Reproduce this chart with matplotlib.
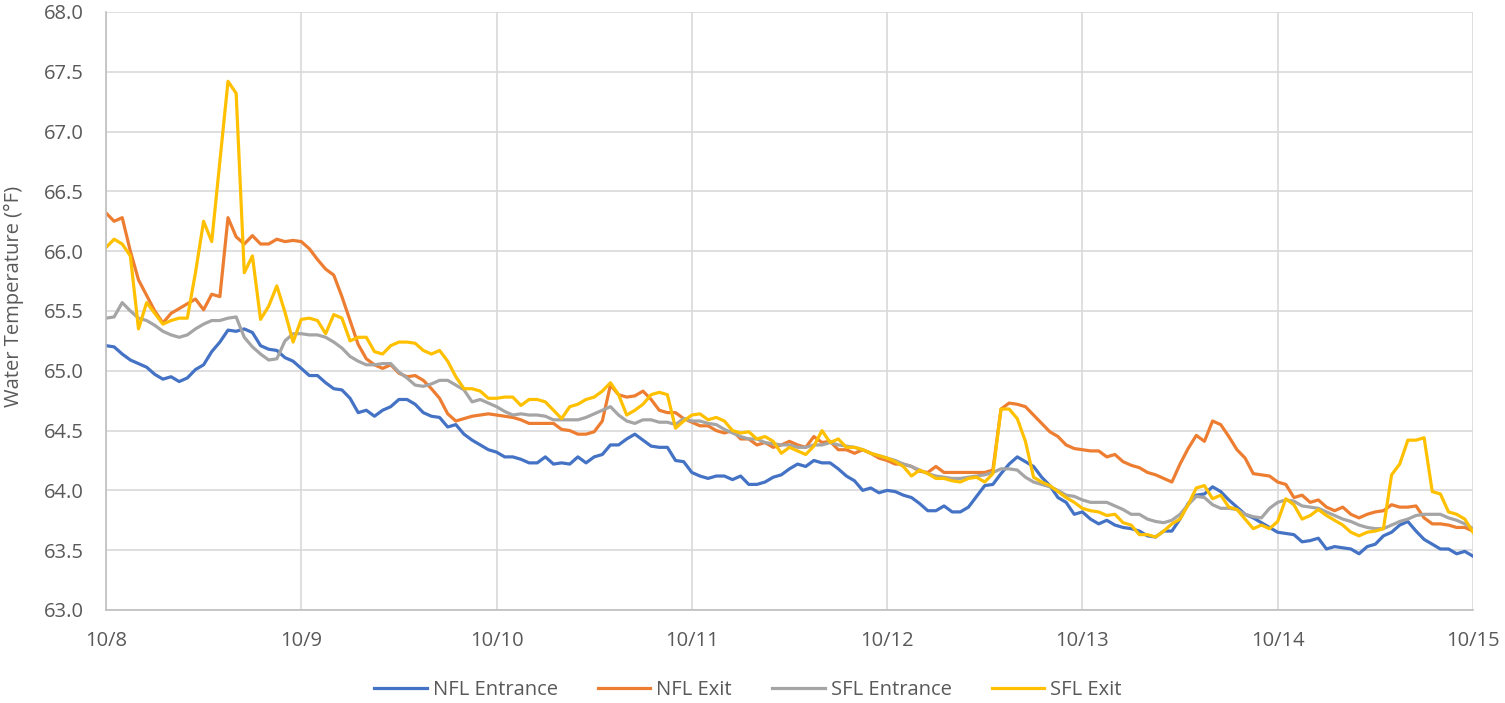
import numpy as np
import matplotlib.pyplot as plt

plt.rcParams['font.family'] = ['Open Sans', 'DejaVu Sans']

# hourly readings, 10/8 00:00 -> 10/15 00:00
nfl_entrance = [
    65.21, 65.20, 65.14, 65.09, 65.06, 65.03, 64.97, 64.93, 64.95, 64.91, 64.94, 65.01, 65.05,
    65.16, 65.24, 65.34, 65.33, 65.35, 65.32, 65.21, 65.18, 65.17, 65.11, 65.08, 65.02,
    64.96, 64.96, 64.90, 64.85, 64.84, 64.77, 64.65, 64.67, 64.62, 64.67, 64.70, 64.76,
    64.76, 64.72, 64.65, 64.62, 64.61, 64.53, 64.55, 64.47, 64.42, 64.38, 64.34, 64.32,
    64.28, 64.28, 64.26, 64.23, 64.23, 64.28, 64.22, 64.23, 64.22, 64.28, 64.23, 64.28,
    64.30, 64.38, 64.38, 64.43, 64.47, 64.42, 64.37, 64.36, 64.36, 64.25, 64.24, 64.15,
    64.12, 64.10, 64.12, 64.12, 64.09, 64.12, 64.05, 64.05, 64.07, 64.11, 64.13, 64.18,
    64.22, 64.20, 64.25, 64.23, 64.23, 64.18, 64.12, 64.08, 64.00, 64.02, 63.98, 64.00,
    63.99, 63.96, 63.94, 63.89, 63.83, 63.83, 63.87, 63.82, 63.82, 63.86, 63.95, 64.04,
    64.05, 64.14, 64.22, 64.28, 64.24, 64.20, 64.11, 64.04, 63.94, 63.90, 63.80, 63.82,
    63.76, 63.72, 63.75, 63.71, 63.69, 63.68, 63.66, 63.62, 63.61, 63.66, 63.66, 63.76,
    63.89, 63.96, 63.97, 64.03, 63.99, 63.92, 63.86, 63.80, 63.77, 63.73, 63.69, 63.65,
    63.64, 63.63, 63.57, 63.58, 63.60, 63.51, 63.53, 63.52, 63.51, 63.47, 63.53, 63.55,
    63.62, 63.65, 63.71, 63.74, 63.66, 63.59, 63.55, 63.51, 63.51, 63.47, 63.49, 63.45,
]

nfl_exit = [
    66.32, 66.25, 66.28, 66.00, 65.76, 65.63, 65.50, 65.40, 65.48, 65.52, 65.56, 65.60, 65.51,
    65.64, 65.62, 66.28, 66.12, 66.06, 66.13, 66.06, 66.06, 66.10, 66.08, 66.09, 66.08,
    66.02, 65.93, 65.85, 65.80, 65.62, 65.42, 65.22, 65.10, 65.05, 65.02, 65.05, 64.98,
    64.95, 64.96, 64.92, 64.85, 64.77, 64.64, 64.58, 64.60, 64.62, 64.63, 64.64, 64.63,
    64.62, 64.61, 64.59, 64.56, 64.56, 64.56, 64.56, 64.51, 64.50, 64.47, 64.47, 64.49,
    64.58, 64.88, 64.80, 64.78, 64.79, 64.83, 64.76, 64.67, 64.65, 64.65, 64.60, 64.57,
    64.54, 64.54, 64.50, 64.48, 64.50, 64.43, 64.43, 64.38, 64.40, 64.36, 64.38, 64.41,
    64.38, 64.36, 64.45, 64.40, 64.41, 64.34, 64.34, 64.31, 64.34, 64.31, 64.27, 64.25,
    64.22, 64.22, 64.20, 64.16, 64.15, 64.20, 64.15, 64.15, 64.15, 64.15, 64.15, 64.15,
    64.17, 64.68, 64.73, 64.72, 64.70, 64.63, 64.56, 64.49, 64.45, 64.38, 64.35, 64.34,
    64.33, 64.33, 64.28, 64.30, 64.24, 64.21, 64.19, 64.15, 64.13, 64.10, 64.07, 64.22,
    64.35, 64.46, 64.41, 64.58, 64.55, 64.45, 64.34, 64.27, 64.14, 64.13, 64.12, 64.07,
    64.05, 63.94, 63.96, 63.90, 63.92, 63.86, 63.83, 63.86, 63.80, 63.77, 63.80, 63.82,
    63.83, 63.88, 63.86, 63.86, 63.87, 63.77, 63.72, 63.72, 63.71, 63.69, 63.69, 63.66,
]

sfl_entrance = [
    65.44, 65.45, 65.57, 65.50, 65.44, 65.42, 65.38, 65.33, 65.30, 65.28, 65.30, 65.35, 65.39,
    65.42, 65.42, 65.44, 65.45, 65.28, 65.20, 65.14, 65.09, 65.10, 65.25, 65.31, 65.31,
    65.30, 65.30, 65.28, 65.24, 65.19, 65.12, 65.08, 65.05, 65.05, 65.06, 65.06, 64.99,
    64.94, 64.88, 64.87, 64.89, 64.92, 64.92, 64.88, 64.84, 64.74, 64.76, 64.73, 64.70,
    64.66, 64.63, 64.64, 64.63, 64.63, 64.62, 64.59, 64.59, 64.59, 64.59, 64.61, 64.64,
    64.67, 64.70, 64.63, 64.58, 64.56, 64.59, 64.59, 64.57, 64.57, 64.55, 64.60, 64.58,
    64.58, 64.56, 64.55, 64.51, 64.48, 64.45, 64.43, 64.43, 64.40, 64.39, 64.38, 64.38,
    64.36, 64.36, 64.38, 64.38, 64.40, 64.38, 64.37, 64.36, 64.34, 64.31, 64.29, 64.27,
    64.25, 64.22, 64.20, 64.17, 64.14, 64.12, 64.11, 64.10, 64.10, 64.11, 64.12, 64.13,
    64.15, 64.18, 64.18, 64.17, 64.11, 64.07, 64.05, 64.03, 64.00, 63.96, 63.95, 63.92,
    63.90, 63.90, 63.90, 63.87, 63.84, 63.80, 63.80, 63.76, 63.74, 63.73, 63.75, 63.80,
    63.88, 63.95, 63.94, 63.88, 63.85, 63.85, 63.84, 63.80, 63.78, 63.77, 63.85, 63.90,
    63.92, 63.91, 63.87, 63.86, 63.85, 63.82, 63.79, 63.76, 63.74, 63.71, 63.69, 63.68,
    63.68, 63.71, 63.74, 63.76, 63.79, 63.80, 63.80, 63.80, 63.77, 63.75, 63.72, 63.68,
]

sfl_exit = [
    66.03, 66.10, 66.06, 65.96, 65.35, 65.57, 65.48, 65.39, 65.42, 65.44, 65.44, 65.82, 66.25,
    66.08, 66.75, 67.42, 67.32, 65.82, 65.96, 65.43, 65.54, 65.71, 65.49, 65.24, 65.43,
    65.44, 65.42, 65.31, 65.47, 65.44, 65.25, 65.28, 65.28, 65.16, 65.14, 65.21, 65.24,
    65.24, 65.23, 65.17, 65.14, 65.17, 65.08, 64.95, 64.85, 64.85, 64.83, 64.77, 64.77,
    64.78, 64.78, 64.71, 64.76, 64.76, 64.74, 64.67, 64.60, 64.70, 64.72, 64.76, 64.78,
    64.83, 64.90, 64.80, 64.63, 64.67, 64.72, 64.80, 64.82, 64.80, 64.52, 64.58, 64.63,
    64.64, 64.59, 64.61, 64.58, 64.50, 64.48, 64.49, 64.43, 64.45, 64.41, 64.31, 64.36,
    64.33, 64.30, 64.37, 64.50, 64.40, 64.43, 64.36, 64.36, 64.34, 64.31, 64.29, 64.27,
    64.24, 64.20, 64.12, 64.17, 64.14, 64.10, 64.10, 64.08, 64.07, 64.10, 64.11, 64.07,
    64.14, 64.68, 64.68, 64.60, 64.41, 64.11, 64.07, 64.04, 63.99, 63.94, 63.90, 63.85,
    63.83, 63.82, 63.79, 63.80, 63.73, 63.71, 63.63, 63.63, 63.61, 63.66, 63.72, 63.76,
    63.88, 64.02, 64.04, 63.93, 63.96, 63.86, 63.84, 63.76, 63.68, 63.71, 63.68, 63.74,
    63.93, 63.88, 63.76, 63.79, 63.84, 63.79, 63.75, 63.71, 63.65, 63.62, 63.65, 63.66,
    63.68, 64.13, 64.22, 64.42, 64.42, 64.44, 63.99, 63.97, 63.82, 63.80, 63.76, 63.65,
]

day_labels = ['10/8', '10/9', '10/10', '10/11', '10/12', '10/13', '10/14', '10/15']

series = [('NFL Entrance', nfl_entrance, '#4472C4'),
          ('NFL Exit', nfl_exit, '#ED7D31'),
          ('SFL Entrance', sfl_entrance, '#A5A5A5'),
          ('SFL Exit', sfl_exit, '#FFC000')]

fs = 14.5

fig = plt.figure(figsize=(15.05, 7.03), dpi=100)
ax = fig.add_axes([0.0704, 0.1323, 0.9083, 0.8507])

for name, vals, col in series:
    t = np.arange(len(vals)) / 24.0  # days since 10/8
    ax.plot(t, vals, color=col, lw=2.3, label=name, solid_joinstyle='round')

ax.set_xlim(0, 7)
ax.set_ylim(63, 68)
ax.set_xticks(range(8))
ax.set_xticklabels(day_labels)
ax.set_yticks(np.arange(63, 68.01, 0.5))
ax.set_yticklabels(['%.1f' % v for v in np.arange(63, 68.01, 0.5)])
ax.grid(color='#D9D9D9', lw=1.2)
ax.set_axisbelow(True)
for s in ['top', 'right']:
    ax.spines[s].set_visible(False)
for s in ['left', 'bottom']:
    ax.spines[s].set_color('#BFBFBF')
    ax.spines[s].set_linewidth(1.2)
ax.tick_params(length=0, labelsize=fs, colors='#595959')
ax.tick_params(axis='x', pad=15)
ax.tick_params(axis='y', pad=16)
ax.set_ylabel('Water Temperature (°F)', fontsize=fs, color='#595959')
ax.yaxis.set_label_coords(-0.060, 0.525)

fig.legend(loc='center', bbox_to_anchor=(0.497, 0.019), ncol=4, frameon=False,
           fontsize=fs, handlelength=2.6, handletextpad=0.3, columnspacing=2.0,
           labelcolor='#595959')

plt.savefig('out.png', dpi=100)
